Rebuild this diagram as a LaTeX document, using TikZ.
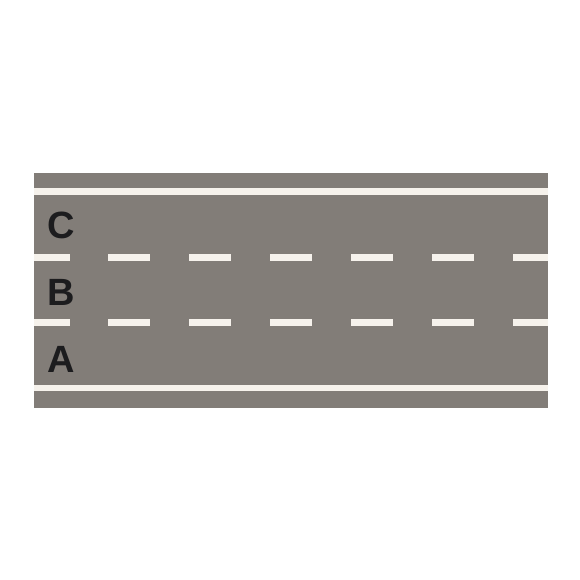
\documentclass[tikz,border=0pt]{standalone}
\usepackage{fontspec}
\setmainfont{Liberation Sans}
\definecolor{asphalt}{RGB}{130,125,120}
\definecolor{paint}{RGB}{246,242,236}
\definecolor{ink}{RGB}{28,28,30}
\tikzset{
  lane/.style={text=ink, font=\fontsize{27}{27}\selectfont\bfseries, inner sep=0pt},
  roadpaint/.style={fill=paint, draw=none}
}
\begin{document}
\begin{tikzpicture}[x=0.025cm, y=-0.025cm]
	  \useasboundingbox (0,0) rectangle (580,580);
	  \fill[white] (0,0) rectangle (580,580);
	  % road surface
	  \fill[asphalt] (34,173) rectangle (548,408);
	  % edge lines
	  \fill[roadpaint] (34,188) rectangle (548,195);
	  \fill[roadpaint] (34,385) rectangle (548,391);
	  % lane dividers
	  \foreach \y in {254,319} {
	    \fill[roadpaint] (34,\y) rectangle (70,\y+7);
	    \foreach \x in {108,189,270,351,432} {
	      \fill[roadpaint] (\x,\y) rectangle (\x+42,\y+7);
	    }
	    \fill[roadpaint] (513,\y) rectangle (548,\y+7);
	  }
	  \node[lane] (laneC) at (61,225) {C};
	  \node[lane] (laneB) at (61,292) {B};
	  \node[lane] (laneA) at (61,359) {A};
	\end{tikzpicture}
\end{document}
